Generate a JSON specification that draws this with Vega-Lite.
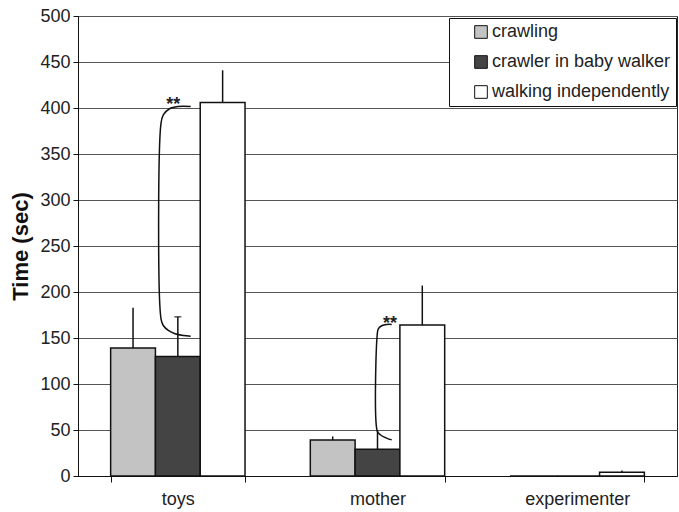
{
  "$schema": "https://vega.github.io/schema/vega-lite/v6.json",
  "width": 599,
  "height": 460,
  "autosize": "none",
  "padding": {"left": 78, "top": 16, "right": 2, "bottom": 36},
  "background": "white",
  "config": {
    "font": "Liberation Sans",
    "view": {"stroke": "#222", "strokeWidth": 1},
    "axis": {
      "labelFont": "Liberation Sans",
      "labelFontSize": 18,
      "labelColor": "#222",
      "domainColor": "#111",
      "tickColor": "#111",
      "titleFont": "Liberation Sans"
    }
  },
  "datasets": {
    "times": [
      {"target": "toys", "mode": "crawling", "time": 139, "upper": 183},
      {"target": "toys", "mode": "crawler in baby walker", "time": 130, "upper": 173},
      {"target": "toys", "mode": "walking independently", "time": 406, "upper": 441},
      {"target": "mother", "mode": "crawling", "time": 39, "upper": 43},
      {"target": "mother", "mode": "crawler in baby walker", "time": 29, "upper": 50},
      {"target": "mother", "mode": "walking independently", "time": 164, "upper": 207},
      {"target": "experimenter", "mode": "crawling", "time": 0, "upper": 0},
      {"target": "experimenter", "mode": "crawler in baby walker", "time": 0, "upper": 0},
      {"target": "experimenter", "mode": "walking independently", "time": 4, "upper": 6}
    ],
    "brackets": [
      {"pair": "toys", "step": 1, "pos": 0.5644, "time": 401.6},
      {"pair": "toys", "step": 2, "pos": 0.5008, "time": 401.6},
      {"pair": "toys", "step": 3, "pos": 0.4583, "time": 399.2},
      {"pair": "toys", "step": 4, "pos": 0.4272, "time": 392.4},
      {"pair": "toys", "step": 5, "pos": 0.4157, "time": 383.2},
      {"pair": "toys", "step": 6, "pos": 0.4157, "time": 170.9},
      {"pair": "toys", "step": 7, "pos": 0.4272, "time": 163.6},
      {"pair": "toys", "step": 8, "pos": 0.4523, "time": 158.2},
      {"pair": "toys", "step": 9, "pos": 0.4859, "time": 154.6},
      {"pair": "toys", "step": 10, "pos": 0.5274, "time": 152.7},
      {"pair": "toys", "step": 11, "pos": 0.5644, "time": 152.0},
      {"pair": "mother", "step": 1, "pos": 1.5711, "time": 164.7},
      {"pair": "mother", "step": 2, "pos": 1.5461, "time": 164.7},
      {"pair": "mother", "step": 3, "pos": 1.5210, "time": 163.3},
      {"pair": "mother", "step": 4, "pos": 1.5040, "time": 160.0},
      {"pair": "mother", "step": 5, "pos": 1.4990, "time": 154.6},
      {"pair": "mother", "step": 6, "pos": 1.4990, "time": 48.7},
      {"pair": "mother", "step": 7, "pos": 1.5125, "time": 45.1},
      {"pair": "mother", "step": 8, "pos": 1.5340, "time": 42.2},
      {"pair": "mother", "step": 9, "pos": 1.5540, "time": 40.4},
      {"pair": "mother", "step": 10, "pos": 1.5711, "time": 39.3}
    ],
    "stars": [
      {"pair": "toys", "pos": 0.477, "time": 398, "label": "**"},
      {"pair": "mother", "pos": 1.563, "time": 160, "label": "**"}
    ]
  },
  "layer": [
    {
      "data": {"name": "times"},
      "encoding": {
        "x": {
          "field": "target",
          "type": "nominal",
          "sort": ["toys", "mother", "experimenter"],
          "scale": {"paddingInner": 0.327, "paddingOuter": 0.1635},
          "axis": {"title": null, "tickBand": "extent", "tickSize": 6, "labelPadding": 8, "labelAngle": 0, "grid": false}
        },
        "xOffset": {
          "field": "mode",
          "type": "nominal",
          "sort": ["crawling", "crawler in baby walker", "walking independently"],
          "scale": {"paddingInner": 0, "paddingOuter": 0}
        },
        "y": {
          "field": "time",
          "type": "quantitative",
          "scale": {"domain": [0, 500], "nice": false},
          "axis": {
            "title": "Time (sec)",
            "titleFontSize": 22,
            "titleFontWeight": "bold",
            "titleColor": "#111",
            "titlePadding": 7,
            "values": [0, 50, 100, 150, 200, 250, 300, 350, 400, 450, 500],
            "grid": true,
            "gridColor": "#555",
            "gridWidth": 1,
            "tickSize": 5,
            "labelPadding": 3
          }
        }
      },
      "layer": [
        {
          "mark": {"type": "bar", "stroke": "#111", "strokeWidth": 1.5},
          "encoding": {
            "color": {
              "field": "mode",
              "type": "nominal",
              "scale": {
                "domain": ["crawling", "crawler in baby walker", "walking independently"],
                "range": ["#c3c3c3", "#444444", "#ffffff"]
              },
              "legend": {
                "title": null,
                "orient": "none",
                "legendX": 371,
                "legendY": 2,
                "direction": "vertical",
                "fillColor": "white",
                "strokeColor": "#111",
                "padding": 5,
                "symbolOffset": 18,
                "symbolType": "square",
                "symbolSize": 160,
                "symbolStrokeColor": "#111",
                "symbolStrokeWidth": 1,
                "labelFont": "Liberation Sans",
                "labelFontSize": 18,
                "labelColor": "#222",
                "labelOffset": 2,
                "labelLimit": 400,
                "rowPadding": 12
              }
            }
          }
        },
        {
          "mark": {"type": "rule", "color": "#111", "strokeWidth": 1.5},
          "encoding": {"y2": {"field": "upper"}}
        },
        {
          "transform": [{"filter": "datum.target == 'toys' && datum.mode == 'crawler in baby walker'"}],
          "mark": {"type": "tick", "orient": "horizontal", "size": 7, "thickness": 1.5, "color": "#111"},
          "encoding": {"y": {"field": "upper", "type": "quantitative"}}
        }
      ]
    },
    {
      "encoding": {
        "x": {"field": "pos", "type": "quantitative", "scale": {"domain": [0, 3], "nice": false, "zero": false}, "axis": null}
      },
      "layer": [
        {
          "data": {"name": "brackets"},
          "mark": {"type": "line", "interpolate": "catmull-rom", "stroke": "#111", "strokeWidth": 1.5},
          "encoding": {
            "y": {"field": "time", "type": "quantitative"},
            "detail": {"field": "pair"},
            "order": {"field": "step"}
          }
        },
        {
          "data": {"name": "stars"},
          "mark": {"type": "text", "fontSize": 18, "fontWeight": "bold", "baseline": "alphabetic", "align": "center", "color": "#222"},
          "encoding": {
            "y": {"field": "time", "type": "quantitative"},
            "text": {"field": "label"}
          }
        }
      ]
    }
  ],
  "resolve": {"scale": {"x": "independent"}, "axis": {"x": "independent"}}
}
